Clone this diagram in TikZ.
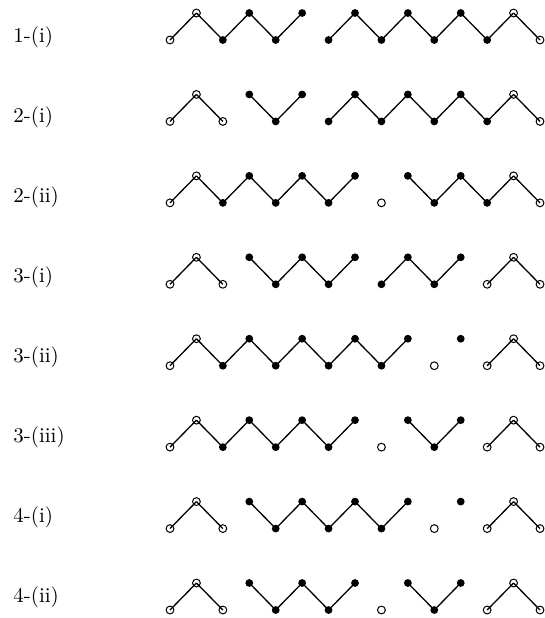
\documentclass[tikz,border=0pt]{standalone}
\usepackage{tikz}
\usetikzlibrary{positioning}

\tikzset{
  site/.style={circle, inner sep=0pt, minimum size=3.9pt},
  full/.style={site, fill=black},
  hollow/.style={site, draw, line width=0.5pt},
  bond/.style={line width=0.65pt}
}

\begin{document}
\begin{tikzpicture}[x=0.5pt, y=-0.5pt]
\useasboundingbox (0,0) rectangle (545,618);
% one row per configuration: label / filled sites / empty sites / bonds i--(i+1)
\foreach \r/\lab/\full/\hollow/\bonds in {
  1/{1-(i)}/{2,3,4,5,6,7,8,9,10,11,12}/{0,1,13,14}/{0,1,2,3,4,6,7,8,9,10,11,12,13},
  2/{2-(i)}/{3,4,5,6,7,8,9,10,11,12}/{0,1,2,13,14}/{0,1,3,4,6,7,8,9,10,11,12,13},
  3/{2-(ii)}/{2,3,4,5,6,7,9,10,11,12}/{0,1,8,13,14}/{0,1,2,3,4,5,6,9,10,11,12,13},
  4/{3-(i)}/{3,4,5,6,7,8,9,10,11}/{0,1,2,12,13,14}/{0,1,3,4,5,6,8,9,10,12,13},
  5/{3-(ii)}/{2,3,4,5,6,7,8,9,11}/{0,1,10,12,13,14}/{0,1,2,3,4,5,6,7,8,12,13},
  6/{3-(iii)}/{2,3,4,5,6,7,9,10,11}/{0,1,8,12,13,14}/{0,1,2,3,4,5,6,9,10,12,13},
  7/{4-(i)}/{3,4,5,6,7,8,9,11}/{0,1,2,10,12,13,14}/{0,1,3,4,5,6,7,8,12,13},
  8/{4-(ii)}/{3,4,5,6,7,9,10,11}/{0,1,2,8,12,13,14}/{0,1,3,4,5,6,9,10,12,13}} {
  \node[anchor=west, inner sep=0pt, font=\fontsize{10.5}{12}\selectfont] (lab\r) at (13,{37+80*(\r-1)}) {\lab};
  \foreach \i in \full { \node[full] (n\r-\i) at ({170+26.43*\i},{40+81.43*(\r-1)-27*mod(\i,2)}) {}; }
  \foreach \i in \hollow { \node[hollow] (n\r-\i) at ({170+26.43*\i},{40+81.43*(\r-1)-27*mod(\i,2)}) {}; }
  \foreach \i in \bonds { \pgfmathtruncatemacro\j{\i+1} \draw[bond] (n\r-\i.center) -- (n\r-\j.center); }
}
\end{tikzpicture}
\end{document}
